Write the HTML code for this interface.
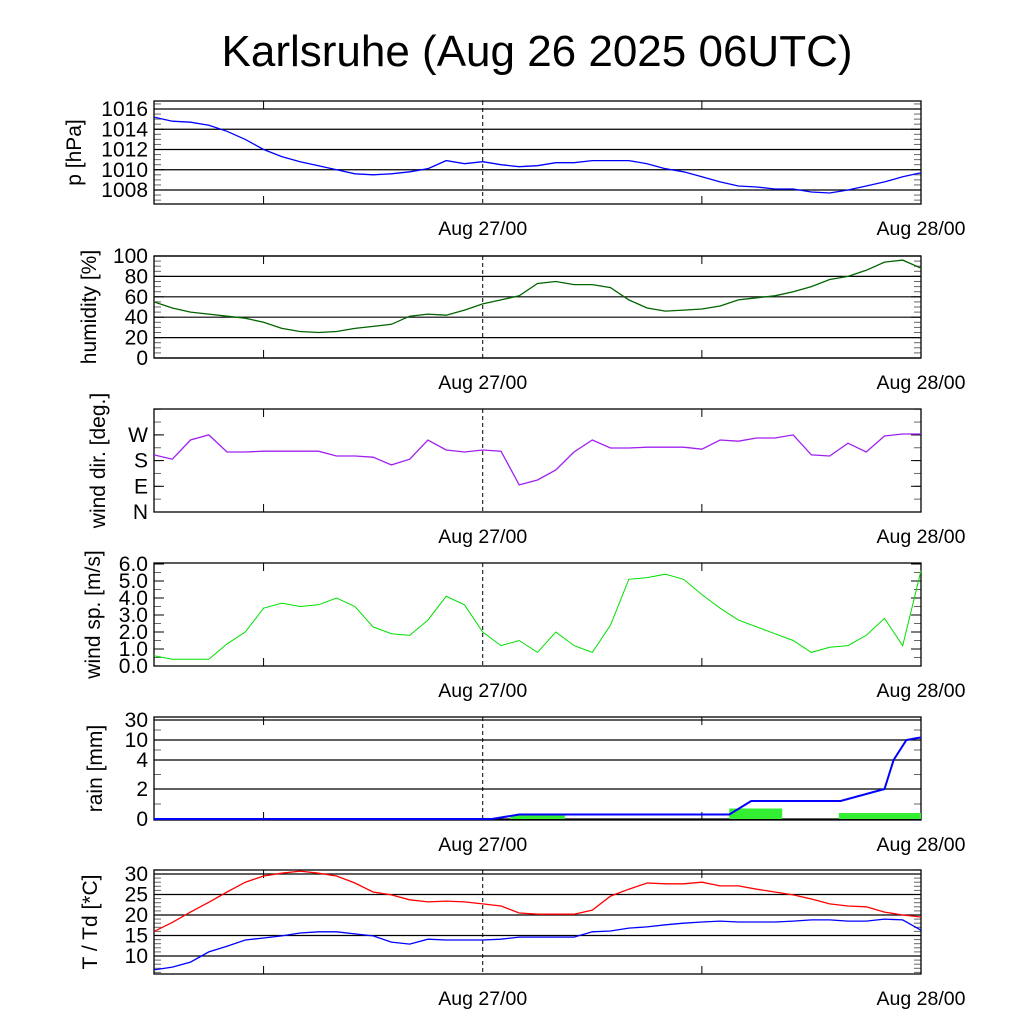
<!DOCTYPE html>
<html><head><meta charset="utf-8"><style>
body{margin:0;background:#fff}
svg text{font-family:"Liberation Sans",sans-serif;fill:#000}
</style></head><body>
<svg id="c" width="1024" height="1024" viewBox="0 0 1024 1024">
<text x="537" y="66" font-size="44" text-anchor="middle">Karlsruhe (Aug 26 2025 06UTC)</text>
</svg>
<script>
const hours=[];for(let i=0;i<=42;i++)hours.push(i);
const pressure=[1015.2,1014.8,1014.7,1014.4,1013.8,1013.0,1012.0,1011.3,1010.8,1010.4,1010.0,1009.6,1009.5,1009.6,1009.8,1010.1,1010.9,1010.6,1010.8,1010.5,1010.3,1010.4,1010.7,1010.7,1010.9,1010.9,1010.9,1010.6,1010.1,1009.8,1009.3,1008.8,1008.4,1008.3,1008.1,1008.1,1007.8,1007.7,1008.0,1008.4,1008.8,1009.3,1009.7];
const humidity=[55,49,45,43,41,39,35,29,26,25,26,29,31,33,41,43,42,47,53,57,61,73,75,72,72,69,57,49,46,47,48,51,57,59,61,65,70,77,80,86,94,96,88];
const windDir=[200,185,252,270,210,210,213,213,213,213,196,196,192,165,185,252,217,210,217,213,95,112,147,210,252,224,224,227,227,227,220,252,248,259,259,270,200,196,241,210,266,273,273];
const windSpeed=[0.6,0.4,0.4,0.4,1.3,2.0,3.4,3.7,3.5,3.6,4.0,3.5,2.3,1.9,1.8,2.7,4.1,3.6,2.0,1.2,1.5,0.8,2.0,1.2,0.8,2.4,5.1,5.2,5.4,5.1,4.2,3.4,2.7,2.3,1.9,1.5,0.8,1.1,1.2,1.8,2.8,1.2,5.6];
const rainCumH=[0,18.5,20,31.5,32.7,37.6,40,40.5,41.2,41.8,42];
const rainCum=[0,0,0.3,0.3,1.2,1.2,2,4,10,12,12.5];
const rainBarStart=[19.5,31.5,37.5];
const rainBarEnd=[22.5,34.4,42];
const rainBar=[0.25,0.7,0.4];
const temp=[16,18.2,20.7,23.1,25.6,28,29.5,30.2,30.7,30.2,29.5,27.8,25.6,24.9,23.7,23.2,23.4,23.2,22.7,22.2,20.5,20.2,20.2,20.2,21.2,24.6,26.3,27.8,27.6,27.6,28,27.1,27.1,26.3,25.6,24.9,23.9,22.7,22.2,22,20.7,20,19.5];
const dew=[6.6,7.3,8.5,11,12.4,13.9,14.4,14.9,15.6,15.9,15.9,15.4,14.9,13.4,12.9,14.1,13.9,13.9,13.9,14.1,14.6,14.6,14.6,14.6,15.9,16.1,16.8,17.1,17.6,18,18.3,18.5,18.3,18.3,18.3,18.5,18.8,18.8,18.5,18.5,19,18.8,16.3];
const NS='http://www.w3.org/2000/svg';
const svg=document.getElementById('c');
const X0=154,X1=921;
const xs=h=>X0+(X1-X0)*h/42;
function el(t,a,p){const e=document.createElementNS(NS,t);for(const k in a)e.setAttribute(k,a[k]);(p||svg).appendChild(e);return e;}
function panel(name,top,bot,ymap,ticks,labels,grid,minors,ylabel,tx){
  const g=el('g',{});
  
  
  if(grid)ticks.forEach(v=>{el('line',{x1:X0,x2:X1,y1:ymap(v),y2:ymap(v),stroke:'#000','stroke-width':1.2},g);});
  minors.forEach(v=>{const y=ymap(v);el('line',{x1:X0,x2:X0+7,y1:y,y2:y,stroke:'#666','stroke-width':1},g);el('line',{x1:X1-7,x2:X1,y1:y,y2:y,stroke:'#666','stroke-width':1},g);});
  ticks.forEach((v,i)=>{const y=ymap(v);el('line',{x1:X0,x2:X0+10,y1:y,y2:y,stroke:'#000'},g);el('line',{x1:X1-10,x2:X1,y1:y,y2:y,stroke:'#000'},g);
    const t=el('text',{x:X0-6,y:y+7,'font-size':21,'text-anchor':'end'},g);t.textContent=labels[i];
    
    });
  [6,30].forEach(h=>{const x=xs(h);el('line',{x1:x,x2:x,y1:bot,y2:bot-8,stroke:'#000'},g);el('line',{x1:x,x2:x,y1:top,y2:top+8,stroke:'#000'},g);});
  el('line',{x1:xs(18),x2:xs(18),y1:top,y2:bot,stroke:'#000','stroke-dasharray':'4,3'},g);
  el('rect',{x:X0,y:top,width:X1-X0,height:bot-top,fill:'none',stroke:'#000','stroke-width':1.3},g);
  [[18,'Aug 27/00'],[42,'Aug 28/00']].forEach(d=>{const t=el('text',{x:xs(d[0]),y:bot+31,'font-size':19.5,'text-anchor':'middle'},g);t.textContent=d[1];
    
    });
  const mid=(top+bot)/2;
  const t=el('text',{x:0,y:0,'font-size':21,'text-anchor':'middle',transform:`translate(${tx},${mid}) rotate(-90)`},g);t.textContent=ylabel;
  
  
  return g;
}
function line(g,xsArr,vals,ymap,color,name,w){
  const d=vals.map((v,i)=>(i?'L':'M')+xs(xsArr[i]).toFixed(1)+','+ymap(v).toFixed(1)).join('');
  const p=el('path',{d:d,fill:'none',stroke:color,'stroke-width':w||1.3},g);
  
  
}
function rng(a,b,s){const r=[];for(let v=a;v<=b+1e-9;v+=s)r.push(+v.toFixed(3));return r;}
const yP=v=>109+(1016-v)*10.125;
let g=panel('pressure',101,204,yP,[1008,1010,1012,1014,1016],['1008','1010','1012','1014','1016'],true,rng(1007,1016.5,0.5),'p [hPa]',81);
line(g,hours,pressure,yP,'#0000ff','pressure-line');
const yH=v=>358-v*1.02;
g=panel('humidity',256,358,yH,[0,20,40,60,80,100],['0','20','40','60','80','100'],true,rng(0,100,5),'humidity [%]',96);
line(g,hours,humidity,yH,'#006400','humidity-line');
const yD=v=>512-v/90*25.7;
g=panel('winddir',409,512,yD,[0,90,180,270],['N','E','S','W'],false,rng(0,360,45),'wind dir. [deg.]',105);
line(g,hours,windDir,yD,'#a020f0','wind-direction-line');
const yS=v=>666-v*17;
g=panel('windspeed',563,666,yS,[0,1,2,3,4,5,6],['0.0','1.0','2.0','3.0','4.0','5.0','6.0'],false,rng(0,6,0.5),'wind sp. [m/s]',100);
line(g,hours,windSpeed,yS,'#00e000','wind-speed-line',1);
const rv=[0,2,4,10,30],ry=[819,789,760,740,720];
const yR=v=>{for(let i=1;i<rv.length;i++)if(v<=rv[i])return ry[i-1]+(ry[i]-ry[i-1])*(v-rv[i-1])/(rv[i]-rv[i-1]);return 720;};
g=panel('rain',717,820,yR,[0,2,4,10,30],['0','2','4','10','30'],true,[1,3,7,20],'rain [mm]',102);
rainBar.forEach((v,i)=>{const r=el('rect',{x:xs(rainBarStart[i]),y:yR(v),width:xs(rainBarEnd[i])-xs(rainBarStart[i]),height:819-yR(v),fill:'#33ee33'},g);
  
  });
line(g,rainCumH,rainCum,yR,'#0000ff','rain-cumulative-line',2);
const yT=v=>874+(30-v)*4.1;
g=panel('temperature',870,974,yT,[10,15,20,25,30],['10','15','20','25','30'],true,rng(6,31,1),'T / Td [*C]',97);
line(g,hours,temp,yT,'#ff0000','temperature-line');
line(g,hours,dew,yT,'#0000ff','dewpoint-line');
</script>
</body></html>
